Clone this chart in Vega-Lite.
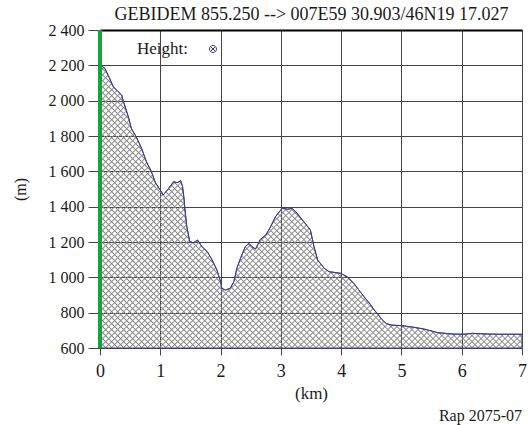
{
  "$schema": "https://vega.github.io/schema/vega-lite/v6.json",
  "width": 422,
  "height": 318,
  "autosize": {"type": "none"},
  "padding": {"left": 100, "top": 30, "right": 6, "bottom": 77},
  "background": "#ffffff",
  "title": {"text": "Rap 2075-07", "orient": "bottom", "anchor": "end", "frame": "group", "offset": 7, "font": "Liberation Serif", "fontSize": 16, "fontWeight": "normal", "color": "#1a1a1a"},
  "config": {
    "view": {"stroke": null},
    "font": "Liberation Serif",
    "axis": {"labelFont": "Liberation Serif", "titleFont": "Liberation Serif", "labelColor": "#1a1a1a", "titleColor": "#1a1a1a", "titleFontWeight": "normal", "gridColor": "#444444", "gridOpacity": 1, "gridWidth": 1, "tickColor": "#444444", "domain": false, "labelOverlap": false},
    "axisY": {"values": [600, 800, 1000, 1200, 1400, 1600, 1800, 2000, 2200, 2400], "grid": true, "tickSize": 12, "labelFontSize": 16, "labelPadding": 4, "labelOverlap": false, "labelBound": false, "labelFlush": false, "titleFontSize": 16, "titlePadding": 20}
  },
  "data": {"values": [
    {"km": 0.00, "m": 2200}, {"km": 0.02, "m": 2198}, {"km": 0.08, "m": 2183}, {"km": 0.16, "m": 2126},
    {"km": 0.22, "m": 2079}, {"km": 0.30, "m": 2051}, {"km": 0.36, "m": 2032}, {"km": 0.38, "m": 2004},
    {"km": 0.47, "m": 1909}, {"km": 0.52, "m": 1843}, {"km": 0.60, "m": 1796}, {"km": 0.69, "m": 1730},
    {"km": 0.77, "m": 1654}, {"km": 0.85, "m": 1600}, {"km": 0.92, "m": 1535}, {"km": 1.00, "m": 1494},
    {"km": 1.05, "m": 1466}, {"km": 1.14, "m": 1504}, {"km": 1.22, "m": 1541}, {"km": 1.28, "m": 1536},
    {"km": 1.34, "m": 1547}, {"km": 1.37, "m": 1513}, {"km": 1.39, "m": 1456}, {"km": 1.41, "m": 1381},
    {"km": 1.44, "m": 1286}, {"km": 1.49, "m": 1202}, {"km": 1.55, "m": 1196}, {"km": 1.62, "m": 1211},
    {"km": 1.69, "m": 1174}, {"km": 1.78, "m": 1145}, {"km": 1.86, "m": 1098}, {"km": 1.94, "m": 1041},
    {"km": 2.00, "m": 975}, {"km": 2.02, "m": 938}, {"km": 2.08, "m": 928}, {"km": 2.16, "m": 938},
    {"km": 2.22, "m": 975}, {"km": 2.27, "m": 1051}, {"km": 2.33, "m": 1107}, {"km": 2.41, "m": 1174},
    {"km": 2.47, "m": 1192}, {"km": 2.52, "m": 1174}, {"km": 2.58, "m": 1160}, {"km": 2.66, "m": 1215},
    {"km": 2.75, "m": 1239}, {"km": 2.83, "m": 1286}, {"km": 2.91, "m": 1343}, {"km": 3.02, "m": 1390},
    {"km": 3.11, "m": 1386}, {"km": 3.19, "m": 1390}, {"km": 3.27, "m": 1362}, {"km": 3.38, "m": 1315},
    {"km": 3.49, "m": 1268}, {"km": 3.55, "m": 1174}, {"km": 3.61, "m": 1098}, {"km": 3.72, "m": 1051},
    {"km": 3.80, "m": 1032}, {"km": 3.99, "m": 1023}, {"km": 4.10, "m": 1003}, {"km": 4.21, "m": 966},
    {"km": 4.38, "m": 890}, {"km": 4.49, "m": 845}, {"km": 4.55, "m": 815}, {"km": 4.60, "m": 796},
    {"km": 4.66, "m": 768}, {"km": 4.74, "m": 740}, {"km": 4.83, "m": 730}, {"km": 5.02, "m": 726},
    {"km": 5.21, "m": 717}, {"km": 5.38, "m": 707}, {"km": 5.60, "m": 687}, {"km": 5.85, "m": 679},
    {"km": 6.04, "m": 678}, {"km": 6.18, "m": 683}, {"km": 6.43, "m": 679}, {"km": 6.60, "m": 678},
    {"km": 7.00, "m": 678}
  ]},
  "resolve": {"axis": {"x": "independent"}},
  "layer": [
    {
      "mark": {"type": "area", "opacity": 1, "fill": {"gradient": "linear", "x1": 0, "y1": 0, "x2": 1.227, "y2": 0.8232, "stops": [
        {"offset":0,"color":"#888"},{"offset":0.0018,"color":"#8880"},
        {"offset":0.0062,"color":"#8880"},{"offset":0.008,"color":"#888"},{"offset":0.0098,"color":"#8880"},
        {"offset":0.0142,"color":"#8880"},{"offset":0.016,"color":"#888"},{"offset":0.0178,"color":"#8880"},
        {"offset":0.0222,"color":"#8880"},{"offset":0.024,"color":"#888"},{"offset":0.0258,"color":"#8880"},
        {"offset":0.0302,"color":"#8880"},{"offset":0.032,"color":"#888"},{"offset":0.0338,"color":"#8880"},
        {"offset":0.0382,"color":"#8880"},{"offset":0.04,"color":"#888"},{"offset":0.0418,"color":"#8880"},
        {"offset":0.0462,"color":"#8880"},{"offset":0.048,"color":"#888"},{"offset":0.0498,"color":"#8880"},
        {"offset":0.0542,"color":"#8880"},{"offset":0.056,"color":"#888"},{"offset":0.0578,"color":"#8880"},
        {"offset":0.0622,"color":"#8880"},{"offset":0.064,"color":"#888"},{"offset":0.0658,"color":"#8880"},
        {"offset":0.0702,"color":"#8880"},{"offset":0.072,"color":"#888"},{"offset":0.0738,"color":"#8880"},
        {"offset":0.0782,"color":"#8880"},{"offset":0.08,"color":"#888"},{"offset":0.0818,"color":"#8880"},
        {"offset":0.0862,"color":"#8880"},{"offset":0.088,"color":"#888"},{"offset":0.0898,"color":"#8880"},
        {"offset":0.0942,"color":"#8880"},{"offset":0.096,"color":"#888"},{"offset":0.0978,"color":"#8880"},
        {"offset":0.1022,"color":"#8880"},{"offset":0.104,"color":"#888"},{"offset":0.1058,"color":"#8880"},
        {"offset":0.1102,"color":"#8880"},{"offset":0.112,"color":"#888"},{"offset":0.1138,"color":"#8880"},
        {"offset":0.1182,"color":"#8880"},{"offset":0.12,"color":"#888"},{"offset":0.1218,"color":"#8880"},
        {"offset":0.1262,"color":"#8880"},{"offset":0.128,"color":"#888"},{"offset":0.1298,"color":"#8880"},
        {"offset":0.1342,"color":"#8880"},{"offset":0.136,"color":"#888"},{"offset":0.1378,"color":"#8880"},
        {"offset":0.1422,"color":"#8880"},{"offset":0.144,"color":"#888"},{"offset":0.1458,"color":"#8880"},
        {"offset":0.1502,"color":"#8880"},{"offset":0.152,"color":"#888"},{"offset":0.1538,"color":"#8880"},
        {"offset":0.1582,"color":"#8880"},{"offset":0.16,"color":"#888"},{"offset":0.1618,"color":"#8880"},
        {"offset":0.1662,"color":"#8880"},{"offset":0.168,"color":"#888"},{"offset":0.1698,"color":"#8880"},
        {"offset":0.1742,"color":"#8880"},{"offset":0.176,"color":"#888"},{"offset":0.1778,"color":"#8880"},
        {"offset":0.1822,"color":"#8880"},{"offset":0.184,"color":"#888"},{"offset":0.1858,"color":"#8880"},
        {"offset":0.1902,"color":"#8880"},{"offset":0.192,"color":"#888"},{"offset":0.1938,"color":"#8880"},
        {"offset":0.1982,"color":"#8880"},{"offset":0.2,"color":"#888"},{"offset":0.2018,"color":"#8880"},
        {"offset":0.2062,"color":"#8880"},{"offset":0.208,"color":"#888"},{"offset":0.2098,"color":"#8880"},
        {"offset":0.2142,"color":"#8880"},{"offset":0.216,"color":"#888"},{"offset":0.2178,"color":"#8880"},
        {"offset":0.2222,"color":"#8880"},{"offset":0.224,"color":"#888"},{"offset":0.2258,"color":"#8880"},
        {"offset":0.2302,"color":"#8880"},{"offset":0.232,"color":"#888"},{"offset":0.2338,"color":"#8880"},
        {"offset":0.2382,"color":"#8880"},{"offset":0.24,"color":"#888"},{"offset":0.2418,"color":"#8880"},
        {"offset":0.2462,"color":"#8880"},{"offset":0.248,"color":"#888"},{"offset":0.2498,"color":"#8880"},
        {"offset":0.2542,"color":"#8880"},{"offset":0.256,"color":"#888"},{"offset":0.2578,"color":"#8880"},
        {"offset":0.2622,"color":"#8880"},{"offset":0.264,"color":"#888"},{"offset":0.2658,"color":"#8880"},
        {"offset":0.2702,"color":"#8880"},{"offset":0.272,"color":"#888"},{"offset":0.2738,"color":"#8880"},
        {"offset":0.2782,"color":"#8880"},{"offset":0.28,"color":"#888"},{"offset":0.2818,"color":"#8880"},
        {"offset":0.2862,"color":"#8880"},{"offset":0.288,"color":"#888"},{"offset":0.2898,"color":"#8880"},
        {"offset":0.2942,"color":"#8880"},{"offset":0.296,"color":"#888"},{"offset":0.2978,"color":"#8880"},
        {"offset":0.3022,"color":"#8880"},{"offset":0.304,"color":"#888"},{"offset":0.3058,"color":"#8880"},
        {"offset":0.3102,"color":"#8880"},{"offset":0.312,"color":"#888"},{"offset":0.3138,"color":"#8880"},
        {"offset":0.3182,"color":"#8880"},{"offset":0.32,"color":"#888"},{"offset":0.3218,"color":"#8880"},
        {"offset":0.3262,"color":"#8880"},{"offset":0.328,"color":"#888"},{"offset":0.3298,"color":"#8880"},
        {"offset":0.3342,"color":"#8880"},{"offset":0.336,"color":"#888"},{"offset":0.3378,"color":"#8880"},
        {"offset":0.3422,"color":"#8880"},{"offset":0.344,"color":"#888"},{"offset":0.3458,"color":"#8880"},
        {"offset":0.3502,"color":"#8880"},{"offset":0.352,"color":"#888"},{"offset":0.3538,"color":"#8880"},
        {"offset":0.3582,"color":"#8880"},{"offset":0.36,"color":"#888"},{"offset":0.3618,"color":"#8880"},
        {"offset":0.3662,"color":"#8880"},{"offset":0.368,"color":"#888"},{"offset":0.3698,"color":"#8880"},
        {"offset":0.3742,"color":"#8880"},{"offset":0.376,"color":"#888"},{"offset":0.3778,"color":"#8880"},
        {"offset":0.3822,"color":"#8880"},{"offset":0.384,"color":"#888"},{"offset":0.3858,"color":"#8880"},
        {"offset":0.3902,"color":"#8880"},{"offset":0.392,"color":"#888"},{"offset":0.3938,"color":"#8880"},
        {"offset":0.3982,"color":"#8880"},{"offset":0.4,"color":"#888"},{"offset":0.4018,"color":"#8880"},
        {"offset":0.4062,"color":"#8880"},{"offset":0.408,"color":"#888"},{"offset":0.4098,"color":"#8880"},
        {"offset":0.4142,"color":"#8880"},{"offset":0.416,"color":"#888"},{"offset":0.4178,"color":"#8880"},
        {"offset":0.4222,"color":"#8880"},{"offset":0.424,"color":"#888"},{"offset":0.4258,"color":"#8880"},
        {"offset":0.4302,"color":"#8880"},{"offset":0.432,"color":"#888"},{"offset":0.4338,"color":"#8880"},
        {"offset":0.4382,"color":"#8880"},{"offset":0.44,"color":"#888"},{"offset":0.4418,"color":"#8880"},
        {"offset":0.4462,"color":"#8880"},{"offset":0.448,"color":"#888"},{"offset":0.4498,"color":"#8880"},
        {"offset":0.4542,"color":"#8880"},{"offset":0.456,"color":"#888"},{"offset":0.4578,"color":"#8880"},
        {"offset":0.4622,"color":"#8880"},{"offset":0.464,"color":"#888"},{"offset":0.4658,"color":"#8880"},
        {"offset":0.4702,"color":"#8880"},{"offset":0.472,"color":"#888"},{"offset":0.4738,"color":"#8880"},
        {"offset":0.4782,"color":"#8880"},{"offset":0.48,"color":"#888"},{"offset":0.4818,"color":"#8880"},
        {"offset":0.4862,"color":"#8880"},{"offset":0.488,"color":"#888"},{"offset":0.4898,"color":"#8880"},
        {"offset":0.4942,"color":"#8880"},{"offset":0.496,"color":"#888"},{"offset":0.4978,"color":"#8880"},
        {"offset":0.5022,"color":"#8880"},{"offset":0.504,"color":"#888"},{"offset":0.5058,"color":"#8880"},
        {"offset":0.5102,"color":"#8880"},{"offset":0.512,"color":"#888"},{"offset":0.5138,"color":"#8880"},
        {"offset":0.5182,"color":"#8880"},{"offset":0.52,"color":"#888"},{"offset":0.5218,"color":"#8880"},
        {"offset":0.5262,"color":"#8880"},{"offset":0.528,"color":"#888"},{"offset":0.5298,"color":"#8880"},
        {"offset":0.5342,"color":"#8880"},{"offset":0.536,"color":"#888"},{"offset":0.5378,"color":"#8880"},
        {"offset":0.5422,"color":"#8880"},{"offset":0.544,"color":"#888"},{"offset":0.5458,"color":"#8880"},
        {"offset":0.5502,"color":"#8880"},{"offset":0.552,"color":"#888"},{"offset":0.5538,"color":"#8880"},
        {"offset":0.5582,"color":"#8880"},{"offset":0.56,"color":"#888"},{"offset":0.5618,"color":"#8880"},
        {"offset":0.5662,"color":"#8880"},{"offset":0.568,"color":"#888"},{"offset":0.5698,"color":"#8880"},
        {"offset":0.5742,"color":"#8880"},{"offset":0.576,"color":"#888"},{"offset":0.5778,"color":"#8880"},
        {"offset":0.5822,"color":"#8880"},{"offset":0.584,"color":"#888"},{"offset":0.5858,"color":"#8880"},
        {"offset":0.5902,"color":"#8880"},{"offset":0.592,"color":"#888"},{"offset":0.5938,"color":"#8880"},
        {"offset":0.5982,"color":"#8880"},{"offset":0.6,"color":"#888"},{"offset":0.6018,"color":"#8880"},
        {"offset":0.6062,"color":"#8880"},{"offset":0.608,"color":"#888"},{"offset":0.6098,"color":"#8880"},
        {"offset":0.6142,"color":"#8880"},{"offset":0.616,"color":"#888"},{"offset":0.6178,"color":"#8880"},
        {"offset":0.6222,"color":"#8880"},{"offset":0.624,"color":"#888"},{"offset":0.6258,"color":"#8880"},
        {"offset":0.6302,"color":"#8880"},{"offset":0.632,"color":"#888"},{"offset":0.6338,"color":"#8880"},
        {"offset":0.6382,"color":"#8880"},{"offset":0.64,"color":"#888"},{"offset":0.6418,"color":"#8880"},
        {"offset":0.6462,"color":"#8880"},{"offset":0.648,"color":"#888"},{"offset":0.6498,"color":"#8880"},
        {"offset":0.6542,"color":"#8880"},{"offset":0.656,"color":"#888"},{"offset":0.6578,"color":"#8880"},
        {"offset":0.6622,"color":"#8880"},{"offset":0.664,"color":"#888"},{"offset":0.6658,"color":"#8880"},
        {"offset":0.6702,"color":"#8880"},{"offset":0.672,"color":"#888"},{"offset":0.6738,"color":"#8880"},
        {"offset":0.6782,"color":"#8880"},{"offset":0.68,"color":"#888"},{"offset":0.6818,"color":"#8880"},
        {"offset":0.6862,"color":"#8880"},{"offset":0.688,"color":"#888"},{"offset":0.6898,"color":"#8880"},
        {"offset":0.6942,"color":"#8880"},{"offset":0.696,"color":"#888"},{"offset":0.6978,"color":"#8880"},
        {"offset":0.7022,"color":"#8880"},{"offset":0.704,"color":"#888"},{"offset":0.7058,"color":"#8880"},
        {"offset":0.7102,"color":"#8880"},{"offset":0.712,"color":"#888"},{"offset":0.7138,"color":"#8880"},
        {"offset":0.7182,"color":"#8880"},{"offset":0.72,"color":"#888"},{"offset":0.7218,"color":"#8880"},
        {"offset":0.7262,"color":"#8880"},{"offset":0.728,"color":"#888"},{"offset":0.7298,"color":"#8880"},
        {"offset":0.7342,"color":"#8880"},{"offset":0.736,"color":"#888"},{"offset":0.7378,"color":"#8880"},
        {"offset":0.7422,"color":"#8880"},{"offset":0.744,"color":"#888"},{"offset":0.7458,"color":"#8880"},
        {"offset":0.7502,"color":"#8880"},{"offset":0.752,"color":"#888"},{"offset":0.7538,"color":"#8880"},
        {"offset":0.7582,"color":"#8880"},{"offset":0.76,"color":"#888"},{"offset":0.7618,"color":"#8880"},
        {"offset":0.7662,"color":"#8880"},{"offset":0.768,"color":"#888"},{"offset":0.7698,"color":"#8880"},
        {"offset":0.7742,"color":"#8880"},{"offset":0.776,"color":"#888"},{"offset":0.7778,"color":"#8880"},
        {"offset":0.7822,"color":"#8880"},{"offset":0.784,"color":"#888"},{"offset":0.7858,"color":"#8880"},
        {"offset":0.7902,"color":"#8880"},{"offset":0.792,"color":"#888"},{"offset":0.7938,"color":"#8880"},
        {"offset":0.7982,"color":"#8880"},{"offset":0.8,"color":"#888"},{"offset":0.8018,"color":"#8880"},
        {"offset":0.8062,"color":"#8880"},{"offset":0.808,"color":"#888"},{"offset":0.8098,"color":"#8880"},
        {"offset":0.8142,"color":"#8880"},{"offset":0.816,"color":"#888"},{"offset":0.8178,"color":"#8880"},
        {"offset":0.8222,"color":"#8880"},{"offset":0.824,"color":"#888"},{"offset":0.8258,"color":"#8880"},
        {"offset":0.8302,"color":"#8880"},{"offset":0.832,"color":"#888"},{"offset":0.8338,"color":"#8880"},
        {"offset":0.8382,"color":"#8880"},{"offset":0.84,"color":"#888"},{"offset":0.8418,"color":"#8880"},
        {"offset":0.8462,"color":"#8880"},{"offset":0.848,"color":"#888"},{"offset":0.8498,"color":"#8880"},
        {"offset":0.8542,"color":"#8880"},{"offset":0.856,"color":"#888"},{"offset":0.8578,"color":"#8880"},
        {"offset":0.8622,"color":"#8880"},{"offset":0.864,"color":"#888"},{"offset":0.8658,"color":"#8880"},
        {"offset":0.8702,"color":"#8880"},{"offset":0.872,"color":"#888"},{"offset":0.8738,"color":"#8880"},
        {"offset":0.8782,"color":"#8880"},{"offset":0.88,"color":"#888"},{"offset":0.8818,"color":"#8880"},
        {"offset":0.8862,"color":"#8880"},{"offset":0.888,"color":"#888"},{"offset":0.8898,"color":"#8880"},
        {"offset":0.8942,"color":"#8880"},{"offset":0.896,"color":"#888"},{"offset":0.8978,"color":"#8880"},
        {"offset":0.9022,"color":"#8880"},{"offset":0.904,"color":"#888"},{"offset":0.9058,"color":"#8880"},
        {"offset":0.9102,"color":"#8880"},{"offset":0.912,"color":"#888"},{"offset":0.9138,"color":"#8880"},
        {"offset":0.9182,"color":"#8880"},{"offset":0.92,"color":"#888"},{"offset":0.9218,"color":"#8880"},
        {"offset":0.9262,"color":"#8880"},{"offset":0.928,"color":"#888"},{"offset":0.9298,"color":"#8880"},
        {"offset":0.9342,"color":"#8880"},{"offset":0.936,"color":"#888"},{"offset":0.9378,"color":"#8880"},
        {"offset":0.9422,"color":"#8880"},{"offset":0.944,"color":"#888"},{"offset":0.9458,"color":"#8880"},
        {"offset":0.9502,"color":"#8880"},{"offset":0.952,"color":"#888"},{"offset":0.9538,"color":"#8880"},
        {"offset":0.9582,"color":"#8880"},{"offset":0.96,"color":"#888"},{"offset":0.9618,"color":"#8880"},
        {"offset":0.9662,"color":"#8880"},{"offset":0.968,"color":"#888"},{"offset":0.9698,"color":"#8880"},
        {"offset":0.9742,"color":"#8880"},{"offset":0.976,"color":"#888"},{"offset":0.9778,"color":"#8880"},
        {"offset":0.9822,"color":"#8880"},{"offset":0.984,"color":"#888"},{"offset":0.9858,"color":"#8880"},
        {"offset":0.9902,"color":"#8880"},{"offset":0.992,"color":"#888"},{"offset":0.9938,"color":"#8880"},
        {"offset":0.9982,"color":"#8880"},{"offset":1,"color":"#888"}
      ]}},
      "encoding": {
        "x": {"field": "km", "type": "quantitative", "scale": {"domain": [0, 7], "nice": false, "zero": false},
          "axis": {"orient": "bottom", "values": [0, 1, 2, 3, 4, 5, 6, 7], "grid": true, "tickSize": 7, "labelFont": "Liberation Serif", "labelFontSize": 18, "labelPadding": 7, "labelFlush": false, "labelOverlap": false, "title": "(km)", "titleFont": "Liberation Serif", "titleFontSize": 17, "titlePadding": 5}},
        "y": {"field": "m", "type": "quantitative", "scale": {"domain": [600, 2400], "nice": false, "zero": false},
          "axis": {"labelExpr": "replace(format(datum.value, ','), ',', ' ')", "title": "(m)"}},
        "y2": {"datum": 600}
      }
    },
    {
      "mark": {"type": "area", "opacity": 1, "stroke": "#3d3d8f", "strokeWidth": 1, "fill": {"gradient": "linear", "x1": 0, "y1": 1, "x2": 1.227, "y2": 0.1768, "stops": [
        {"offset":0,"color":"#888"},{"offset":0.0018,"color":"#8880"},
        {"offset":0.0062,"color":"#8880"},{"offset":0.008,"color":"#888"},{"offset":0.0098,"color":"#8880"},
        {"offset":0.0142,"color":"#8880"},{"offset":0.016,"color":"#888"},{"offset":0.0178,"color":"#8880"},
        {"offset":0.0222,"color":"#8880"},{"offset":0.024,"color":"#888"},{"offset":0.0258,"color":"#8880"},
        {"offset":0.0302,"color":"#8880"},{"offset":0.032,"color":"#888"},{"offset":0.0338,"color":"#8880"},
        {"offset":0.0382,"color":"#8880"},{"offset":0.04,"color":"#888"},{"offset":0.0418,"color":"#8880"},
        {"offset":0.0462,"color":"#8880"},{"offset":0.048,"color":"#888"},{"offset":0.0498,"color":"#8880"},
        {"offset":0.0542,"color":"#8880"},{"offset":0.056,"color":"#888"},{"offset":0.0578,"color":"#8880"},
        {"offset":0.0622,"color":"#8880"},{"offset":0.064,"color":"#888"},{"offset":0.0658,"color":"#8880"},
        {"offset":0.0702,"color":"#8880"},{"offset":0.072,"color":"#888"},{"offset":0.0738,"color":"#8880"},
        {"offset":0.0782,"color":"#8880"},{"offset":0.08,"color":"#888"},{"offset":0.0818,"color":"#8880"},
        {"offset":0.0862,"color":"#8880"},{"offset":0.088,"color":"#888"},{"offset":0.0898,"color":"#8880"},
        {"offset":0.0942,"color":"#8880"},{"offset":0.096,"color":"#888"},{"offset":0.0978,"color":"#8880"},
        {"offset":0.1022,"color":"#8880"},{"offset":0.104,"color":"#888"},{"offset":0.1058,"color":"#8880"},
        {"offset":0.1102,"color":"#8880"},{"offset":0.112,"color":"#888"},{"offset":0.1138,"color":"#8880"},
        {"offset":0.1182,"color":"#8880"},{"offset":0.12,"color":"#888"},{"offset":0.1218,"color":"#8880"},
        {"offset":0.1262,"color":"#8880"},{"offset":0.128,"color":"#888"},{"offset":0.1298,"color":"#8880"},
        {"offset":0.1342,"color":"#8880"},{"offset":0.136,"color":"#888"},{"offset":0.1378,"color":"#8880"},
        {"offset":0.1422,"color":"#8880"},{"offset":0.144,"color":"#888"},{"offset":0.1458,"color":"#8880"},
        {"offset":0.1502,"color":"#8880"},{"offset":0.152,"color":"#888"},{"offset":0.1538,"color":"#8880"},
        {"offset":0.1582,"color":"#8880"},{"offset":0.16,"color":"#888"},{"offset":0.1618,"color":"#8880"},
        {"offset":0.1662,"color":"#8880"},{"offset":0.168,"color":"#888"},{"offset":0.1698,"color":"#8880"},
        {"offset":0.1742,"color":"#8880"},{"offset":0.176,"color":"#888"},{"offset":0.1778,"color":"#8880"},
        {"offset":0.1822,"color":"#8880"},{"offset":0.184,"color":"#888"},{"offset":0.1858,"color":"#8880"},
        {"offset":0.1902,"color":"#8880"},{"offset":0.192,"color":"#888"},{"offset":0.1938,"color":"#8880"},
        {"offset":0.1982,"color":"#8880"},{"offset":0.2,"color":"#888"},{"offset":0.2018,"color":"#8880"},
        {"offset":0.2062,"color":"#8880"},{"offset":0.208,"color":"#888"},{"offset":0.2098,"color":"#8880"},
        {"offset":0.2142,"color":"#8880"},{"offset":0.216,"color":"#888"},{"offset":0.2178,"color":"#8880"},
        {"offset":0.2222,"color":"#8880"},{"offset":0.224,"color":"#888"},{"offset":0.2258,"color":"#8880"},
        {"offset":0.2302,"color":"#8880"},{"offset":0.232,"color":"#888"},{"offset":0.2338,"color":"#8880"},
        {"offset":0.2382,"color":"#8880"},{"offset":0.24,"color":"#888"},{"offset":0.2418,"color":"#8880"},
        {"offset":0.2462,"color":"#8880"},{"offset":0.248,"color":"#888"},{"offset":0.2498,"color":"#8880"},
        {"offset":0.2542,"color":"#8880"},{"offset":0.256,"color":"#888"},{"offset":0.2578,"color":"#8880"},
        {"offset":0.2622,"color":"#8880"},{"offset":0.264,"color":"#888"},{"offset":0.2658,"color":"#8880"},
        {"offset":0.2702,"color":"#8880"},{"offset":0.272,"color":"#888"},{"offset":0.2738,"color":"#8880"},
        {"offset":0.2782,"color":"#8880"},{"offset":0.28,"color":"#888"},{"offset":0.2818,"color":"#8880"},
        {"offset":0.2862,"color":"#8880"},{"offset":0.288,"color":"#888"},{"offset":0.2898,"color":"#8880"},
        {"offset":0.2942,"color":"#8880"},{"offset":0.296,"color":"#888"},{"offset":0.2978,"color":"#8880"},
        {"offset":0.3022,"color":"#8880"},{"offset":0.304,"color":"#888"},{"offset":0.3058,"color":"#8880"},
        {"offset":0.3102,"color":"#8880"},{"offset":0.312,"color":"#888"},{"offset":0.3138,"color":"#8880"},
        {"offset":0.3182,"color":"#8880"},{"offset":0.32,"color":"#888"},{"offset":0.3218,"color":"#8880"},
        {"offset":0.3262,"color":"#8880"},{"offset":0.328,"color":"#888"},{"offset":0.3298,"color":"#8880"},
        {"offset":0.3342,"color":"#8880"},{"offset":0.336,"color":"#888"},{"offset":0.3378,"color":"#8880"},
        {"offset":0.3422,"color":"#8880"},{"offset":0.344,"color":"#888"},{"offset":0.3458,"color":"#8880"},
        {"offset":0.3502,"color":"#8880"},{"offset":0.352,"color":"#888"},{"offset":0.3538,"color":"#8880"},
        {"offset":0.3582,"color":"#8880"},{"offset":0.36,"color":"#888"},{"offset":0.3618,"color":"#8880"},
        {"offset":0.3662,"color":"#8880"},{"offset":0.368,"color":"#888"},{"offset":0.3698,"color":"#8880"},
        {"offset":0.3742,"color":"#8880"},{"offset":0.376,"color":"#888"},{"offset":0.3778,"color":"#8880"},
        {"offset":0.3822,"color":"#8880"},{"offset":0.384,"color":"#888"},{"offset":0.3858,"color":"#8880"},
        {"offset":0.3902,"color":"#8880"},{"offset":0.392,"color":"#888"},{"offset":0.3938,"color":"#8880"},
        {"offset":0.3982,"color":"#8880"},{"offset":0.4,"color":"#888"},{"offset":0.4018,"color":"#8880"},
        {"offset":0.4062,"color":"#8880"},{"offset":0.408,"color":"#888"},{"offset":0.4098,"color":"#8880"},
        {"offset":0.4142,"color":"#8880"},{"offset":0.416,"color":"#888"},{"offset":0.4178,"color":"#8880"},
        {"offset":0.4222,"color":"#8880"},{"offset":0.424,"color":"#888"},{"offset":0.4258,"color":"#8880"},
        {"offset":0.4302,"color":"#8880"},{"offset":0.432,"color":"#888"},{"offset":0.4338,"color":"#8880"},
        {"offset":0.4382,"color":"#8880"},{"offset":0.44,"color":"#888"},{"offset":0.4418,"color":"#8880"},
        {"offset":0.4462,"color":"#8880"},{"offset":0.448,"color":"#888"},{"offset":0.4498,"color":"#8880"},
        {"offset":0.4542,"color":"#8880"},{"offset":0.456,"color":"#888"},{"offset":0.4578,"color":"#8880"},
        {"offset":0.4622,"color":"#8880"},{"offset":0.464,"color":"#888"},{"offset":0.4658,"color":"#8880"},
        {"offset":0.4702,"color":"#8880"},{"offset":0.472,"color":"#888"},{"offset":0.4738,"color":"#8880"},
        {"offset":0.4782,"color":"#8880"},{"offset":0.48,"color":"#888"},{"offset":0.4818,"color":"#8880"},
        {"offset":0.4862,"color":"#8880"},{"offset":0.488,"color":"#888"},{"offset":0.4898,"color":"#8880"},
        {"offset":0.4942,"color":"#8880"},{"offset":0.496,"color":"#888"},{"offset":0.4978,"color":"#8880"},
        {"offset":0.5022,"color":"#8880"},{"offset":0.504,"color":"#888"},{"offset":0.5058,"color":"#8880"},
        {"offset":0.5102,"color":"#8880"},{"offset":0.512,"color":"#888"},{"offset":0.5138,"color":"#8880"},
        {"offset":0.5182,"color":"#8880"},{"offset":0.52,"color":"#888"},{"offset":0.5218,"color":"#8880"},
        {"offset":0.5262,"color":"#8880"},{"offset":0.528,"color":"#888"},{"offset":0.5298,"color":"#8880"},
        {"offset":0.5342,"color":"#8880"},{"offset":0.536,"color":"#888"},{"offset":0.5378,"color":"#8880"},
        {"offset":0.5422,"color":"#8880"},{"offset":0.544,"color":"#888"},{"offset":0.5458,"color":"#8880"},
        {"offset":0.5502,"color":"#8880"},{"offset":0.552,"color":"#888"},{"offset":0.5538,"color":"#8880"},
        {"offset":0.5582,"color":"#8880"},{"offset":0.56,"color":"#888"},{"offset":0.5618,"color":"#8880"},
        {"offset":0.5662,"color":"#8880"},{"offset":0.568,"color":"#888"},{"offset":0.5698,"color":"#8880"},
        {"offset":0.5742,"color":"#8880"},{"offset":0.576,"color":"#888"},{"offset":0.5778,"color":"#8880"},
        {"offset":0.5822,"color":"#8880"},{"offset":0.584,"color":"#888"},{"offset":0.5858,"color":"#8880"},
        {"offset":0.5902,"color":"#8880"},{"offset":0.592,"color":"#888"},{"offset":0.5938,"color":"#8880"},
        {"offset":0.5982,"color":"#8880"},{"offset":0.6,"color":"#888"},{"offset":0.6018,"color":"#8880"},
        {"offset":0.6062,"color":"#8880"},{"offset":0.608,"color":"#888"},{"offset":0.6098,"color":"#8880"},
        {"offset":0.6142,"color":"#8880"},{"offset":0.616,"color":"#888"},{"offset":0.6178,"color":"#8880"},
        {"offset":0.6222,"color":"#8880"},{"offset":0.624,"color":"#888"},{"offset":0.6258,"color":"#8880"},
        {"offset":0.6302,"color":"#8880"},{"offset":0.632,"color":"#888"},{"offset":0.6338,"color":"#8880"},
        {"offset":0.6382,"color":"#8880"},{"offset":0.64,"color":"#888"},{"offset":0.6418,"color":"#8880"},
        {"offset":0.6462,"color":"#8880"},{"offset":0.648,"color":"#888"},{"offset":0.6498,"color":"#8880"},
        {"offset":0.6542,"color":"#8880"},{"offset":0.656,"color":"#888"},{"offset":0.6578,"color":"#8880"},
        {"offset":0.6622,"color":"#8880"},{"offset":0.664,"color":"#888"},{"offset":0.6658,"color":"#8880"},
        {"offset":0.6702,"color":"#8880"},{"offset":0.672,"color":"#888"},{"offset":0.6738,"color":"#8880"},
        {"offset":0.6782,"color":"#8880"},{"offset":0.68,"color":"#888"},{"offset":0.6818,"color":"#8880"},
        {"offset":0.6862,"color":"#8880"},{"offset":0.688,"color":"#888"},{"offset":0.6898,"color":"#8880"},
        {"offset":0.6942,"color":"#8880"},{"offset":0.696,"color":"#888"},{"offset":0.6978,"color":"#8880"},
        {"offset":0.7022,"color":"#8880"},{"offset":0.704,"color":"#888"},{"offset":0.7058,"color":"#8880"},
        {"offset":0.7102,"color":"#8880"},{"offset":0.712,"color":"#888"},{"offset":0.7138,"color":"#8880"},
        {"offset":0.7182,"color":"#8880"},{"offset":0.72,"color":"#888"},{"offset":0.7218,"color":"#8880"},
        {"offset":0.7262,"color":"#8880"},{"offset":0.728,"color":"#888"},{"offset":0.7298,"color":"#8880"},
        {"offset":0.7342,"color":"#8880"},{"offset":0.736,"color":"#888"},{"offset":0.7378,"color":"#8880"},
        {"offset":0.7422,"color":"#8880"},{"offset":0.744,"color":"#888"},{"offset":0.7458,"color":"#8880"},
        {"offset":0.7502,"color":"#8880"},{"offset":0.752,"color":"#888"},{"offset":0.7538,"color":"#8880"},
        {"offset":0.7582,"color":"#8880"},{"offset":0.76,"color":"#888"},{"offset":0.7618,"color":"#8880"},
        {"offset":0.7662,"color":"#8880"},{"offset":0.768,"color":"#888"},{"offset":0.7698,"color":"#8880"},
        {"offset":0.7742,"color":"#8880"},{"offset":0.776,"color":"#888"},{"offset":0.7778,"color":"#8880"},
        {"offset":0.7822,"color":"#8880"},{"offset":0.784,"color":"#888"},{"offset":0.7858,"color":"#8880"},
        {"offset":0.7902,"color":"#8880"},{"offset":0.792,"color":"#888"},{"offset":0.7938,"color":"#8880"},
        {"offset":0.7982,"color":"#8880"},{"offset":0.8,"color":"#888"},{"offset":0.8018,"color":"#8880"},
        {"offset":0.8062,"color":"#8880"},{"offset":0.808,"color":"#888"},{"offset":0.8098,"color":"#8880"},
        {"offset":0.8142,"color":"#8880"},{"offset":0.816,"color":"#888"},{"offset":0.8178,"color":"#8880"},
        {"offset":0.8222,"color":"#8880"},{"offset":0.824,"color":"#888"},{"offset":0.8258,"color":"#8880"},
        {"offset":0.8302,"color":"#8880"},{"offset":0.832,"color":"#888"},{"offset":0.8338,"color":"#8880"},
        {"offset":0.8382,"color":"#8880"},{"offset":0.84,"color":"#888"},{"offset":0.8418,"color":"#8880"},
        {"offset":0.8462,"color":"#8880"},{"offset":0.848,"color":"#888"},{"offset":0.8498,"color":"#8880"},
        {"offset":0.8542,"color":"#8880"},{"offset":0.856,"color":"#888"},{"offset":0.8578,"color":"#8880"},
        {"offset":0.8622,"color":"#8880"},{"offset":0.864,"color":"#888"},{"offset":0.8658,"color":"#8880"},
        {"offset":0.8702,"color":"#8880"},{"offset":0.872,"color":"#888"},{"offset":0.8738,"color":"#8880"},
        {"offset":0.8782,"color":"#8880"},{"offset":0.88,"color":"#888"},{"offset":0.8818,"color":"#8880"},
        {"offset":0.8862,"color":"#8880"},{"offset":0.888,"color":"#888"},{"offset":0.8898,"color":"#8880"},
        {"offset":0.8942,"color":"#8880"},{"offset":0.896,"color":"#888"},{"offset":0.8978,"color":"#8880"},
        {"offset":0.9022,"color":"#8880"},{"offset":0.904,"color":"#888"},{"offset":0.9058,"color":"#8880"},
        {"offset":0.9102,"color":"#8880"},{"offset":0.912,"color":"#888"},{"offset":0.9138,"color":"#8880"},
        {"offset":0.9182,"color":"#8880"},{"offset":0.92,"color":"#888"},{"offset":0.9218,"color":"#8880"},
        {"offset":0.9262,"color":"#8880"},{"offset":0.928,"color":"#888"},{"offset":0.9298,"color":"#8880"},
        {"offset":0.9342,"color":"#8880"},{"offset":0.936,"color":"#888"},{"offset":0.9378,"color":"#8880"},
        {"offset":0.9422,"color":"#8880"},{"offset":0.944,"color":"#888"},{"offset":0.9458,"color":"#8880"},
        {"offset":0.9502,"color":"#8880"},{"offset":0.952,"color":"#888"},{"offset":0.9538,"color":"#8880"},
        {"offset":0.9582,"color":"#8880"},{"offset":0.96,"color":"#888"},{"offset":0.9618,"color":"#8880"},
        {"offset":0.9662,"color":"#8880"},{"offset":0.968,"color":"#888"},{"offset":0.9698,"color":"#8880"},
        {"offset":0.9742,"color":"#8880"},{"offset":0.976,"color":"#888"},{"offset":0.9778,"color":"#8880"},
        {"offset":0.9822,"color":"#8880"},{"offset":0.984,"color":"#888"},{"offset":0.9858,"color":"#8880"},
        {"offset":0.9902,"color":"#8880"},{"offset":0.992,"color":"#888"},{"offset":0.9938,"color":"#8880"},
        {"offset":0.9982,"color":"#8880"},{"offset":1,"color":"#888"}
      ]}},
      "encoding": {
        "x": {"field": "km", "type": "quantitative", "axis": null},
        "y": {"field": "m", "type": "quantitative", "axis": {"labelExpr": "replace(format(datum.value, ','), ',', ' ')", "title": "(m)"}},
        "y2": {"datum": 600}
      }
    },
    {
      "mark": {"type": "line", "strokeWidth": 1},
      "encoding": {
        "x": {"field": "km", "type": "quantitative", "axis": null},
        "y": {"field": "m", "type": "quantitative", "axis": {"labelExpr": "replace(format(datum.value, ','), ',', ' ')", "title": "(m)"}},
        "stroke": {"datum": "Height", "type": "nominal", "scale": {"range": ["#3d3d8f"]},
          "legend": {"title": "Height:", "titleOrient": "left", "orient": "none", "legendX": 37, "legendY": 14, "padding": 0,
            "symbolType": "M-1,0A1,1,0,1,1,1,0A1,1,0,1,1,-1,0ZM-0.7,-0.7L0.7,0.7M-0.7,0.7L0.7,-0.7",
            "symbolSize": 49, "symbolStrokeWidth": 1, "symbolFillColor": "#ffffff",
            "labelExpr": "''", "titleFont": "Liberation Serif", "titleFontSize": 17, "titleFontWeight": "normal", "titleColor": "#1a1a1a", "titlePadding": 20}}
      }
    },
    {
      "mark": {"type": "rule", "color": "#13a538", "strokeWidth": 3},
      "encoding": {
        "x": {"datum": 0, "type": "quantitative",
          "axis": {"orient": "top", "domain": true, "domainColor": "#000000", "domainWidth": 2, "labels": false, "ticks": false, "grid": false,
            "title": "GEBIDEM 855.250 --> 007E59 30.903/46N19 17.027", "titleFont": "Liberation Serif", "titleFontSize": 18, "titlePadding": 7}}
      }
    }
  ]
}
